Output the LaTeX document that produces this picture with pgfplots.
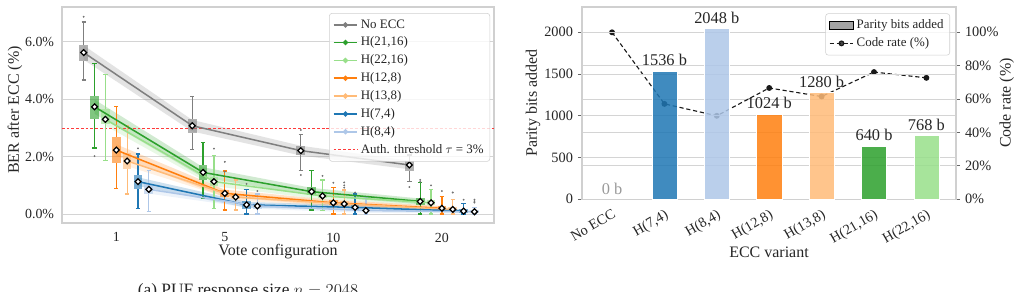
\documentclass[border=0pt]{standalone}
\usepackage{pgfplots}
\pgfplotsset{compat=1.18}
\usepgfplotslibrary{statistics}
\usepackage{fontspec}
\setmainfont{Liberation Serif}
\definecolor{cNo}{HTML}{7F7F7F}
\definecolor{cG}{HTML}{2CA02C}
\definecolor{cLG}{HTML}{98DF8A}
\definecolor{cO}{HTML}{FF7F0E}
\definecolor{cLO}{HTML}{FFBB78}
\definecolor{cB}{HTML}{1F77B4}
\definecolor{cLB}{HTML}{AEC7E8}
\definecolor{spine}{HTML}{D0D0D0}
\definecolor{gridc}{HTML}{D4D4D4}
\definecolor{txt}{HTML}{262626}
\definecolor{thr}{HTML}{FF3B3B}
\newcommand\bx[7]{\addplot[forget plot, boxplot/draw direction=y, boxplot prepared={draw direction=y, draw position=#2, lower whisker=#3, lower quartile=#4, median=#5, upper quartile=#6, upper whisker=#7, box extend=0.08, whisker extend=0.04, every box/.style={draw=none, fill=#1, fill opacity=0.6}, every whisker/.style={draw=#1, line width=0.9pt}, every median/.style={draw=none}}] coordinates {};}
\newcommand\meanline[2]{\addplot[forget plot, #1, line width=1.1pt, mark=square*, mark size=1.5pt, mark options={rotate=45, fill=white, draw=black, line width=0.9pt}] coordinates {#2};}
\newcommand\band[2]{\addplot[forget plot, draw=none, fill=#1, fill opacity=0.22] coordinates {#2};}
\begin{document}
\begin{tikzpicture}
\path[use as bounding box] (0pt,0pt) rectangle (735.84pt,209.52pt);
% ---------------- left panel ----------------
\begin{axis}[
  at={(44.64pt,48.96pt)}, anchor=south west,
  width=311.04pt, height=155.52pt, scale only axis,
  xmin=-0.5, xmax=3.48, ymin=-0.314, ymax=7.22,
  xtick={0,1,2,3}, xticklabels={1,5,10,20},
  ytick={0,2,4,6},
  /pgf/number format/assume math mode=true,
  yticklabel={\pgfmathprintnumber[fixed,fixed zerofill,precision=1]{\tick}\%},
  major tick length=0pt,
  ymajorgrids, grid style={gridc, line width=0.7pt},
  axis line style={spine, line width=1pt},
  tick label style={font=\fontsize{10}{12}\selectfont, text=txt},
  xticklabel style={yshift=-3.5pt},
  yticklabel style={xshift=-2.2pt},
  xlabel={Vote configuration}, ylabel={BER after ECC (\%)},
  label style={font=\fontsize{11.5}{13}\selectfont, text=txt},
  xlabel style={at={(axis description cs:0.5,-0.134)}, anchor=center},
  ylabel style={at={(axis description cs:-0.109,0.523)}, anchor=center},
  legend style={at={(0.991,0.972)}, anchor=north east, font=\fontsize{9.3}{11}\selectfont, draw=spine, fill=white, fill opacity=0.8, text opacity=1, rounded corners=2pt, text=txt, row sep=0.9pt, inner sep=2.5pt},
  legend cell align=left,
]
\addlegendimage{cNo, line width=1.1pt, mark=*, mark size=1.3pt}\addlegendentry{No ECC}
\addlegendimage{cG, line width=1.1pt, mark=*, mark size=1.3pt}\addlegendentry{H(21,16)}
\addlegendimage{cLG, line width=1.1pt, mark=*, mark size=1.3pt}\addlegendentry{H(22,16)}
\addlegendimage{cO, line width=1.1pt, mark=*, mark size=1.3pt}\addlegendentry{H(12,8)}
\addlegendimage{cLO, line width=1.1pt, mark=*, mark size=1.3pt}\addlegendentry{H(13,8)}
\addlegendimage{cB, line width=1.1pt, mark=*, mark size=1.3pt}\addlegendentry{H(7,4)}
\addlegendimage{cLB, line width=1.1pt, mark=*, mark size=1.3pt}\addlegendentry{H(8,4)}
\addlegendimage{thr, dash pattern=on 2pt off 1.4pt, line width=0.65pt}\addlegendentry{Auth. threshold $\tau$ = 3\%}
% bands
\band{cNo}{(-0.3,5.88)(0.7,3.28)(1.7,2.38)(2.7,1.86)(2.7,1.56)(1.7,2.04)(0.7,2.88)(-0.3,5.38)}
\band{cG}{(-0.2,3.99)(0.8,1.63)(1.8,0.91)(2.8,0.54)(2.8,0.34)(1.8,0.65)(0.8,1.27)(-0.2,3.49)}
\band{cLG}{(-0.1,3.52)(0.9,1.29)(1.9,0.75)(2.9,0.49)(2.9,0.29)(1.9,0.51)(0.9,0.97)(-0.1,3.08)}
\band{cO}{(0,2.43)(1,0.85)(2,0.49)(3,0.28)(3,0.12)(2,0.29)(1,0.59)(0,2.03)}
\band{cLO}{(0.1,2.03)(1.1,0.71)(2.1,0.45)(3.1,0.24)(3.1,0.08)(2.1,0.25)(1.1,0.47)(0.1,1.67)}
\band{cB}{(0.2,1.28)(1.2,0.42)(2.2,0.31)(3.2,0.16)(3.2,0.04)(2.2,0.15)(1.2,0.22)(0.2,0.98)}
\band{cLB}{(0.3,1.01)(1.3,0.38)(2.3,0.20)(3.3,0.14)(3.3,0.02)(2.3,0.04)(1.3,0.18)(0.3,0.71)}
% threshold
\addplot[forget plot, thr, dash pattern=on 2pt off 1.4pt, line width=0.65pt] coordinates {(-0.5,3) (3.48,3)};
% boxes: lower whisker, lower quartile, median, upper quartile, upper whisker
\bx{cNo}{-0.3}{4.67}{5.35}{5.63}{5.90}{6.70}
\bx{cNo}{0.7}{2.24}{2.81}{3.08}{3.30}{4.09}
\bx{cNo}{1.7}{1.51}{2.05}{2.21}{2.37}{2.77}
\bx{cNo}{2.7}{1.13}{1.49}{1.71}{1.84}{2.06}
\bx{cG}{-0.2}{2.30}{3.30}{3.74}{4.12}{5.25}
\bx{cG}{0.8}{0.53}{1.19}{1.45}{1.71}{2.49}
\bx{cG}{1.8}{0.14}{0.65}{0.78}{0.95}{1.51}
\bx{cG}{2.8}{0.00}{0.30}{0.44}{0.56}{1.09}
\bx{cLG}{-0.1}{1.86}{3.14}{3.30}{3.66}{4.86}
\bx{cLG}{0.9}{0.20}{0.98}{1.13}{1.30}{2.05}
\bx{cLG}{1.9}{0.12}{0.56}{0.63}{0.74}{1.19}
\bx{cLG}{2.9}{0.00}{0.33}{0.39}{0.49}{0.86}
\bx{cO}{0}{0.88}{1.79}{2.23}{2.67}{3.74}
\bx{cO}{1}{0.14}{0.58}{0.72}{0.84}{1.50}
\bx{cO}{2}{0.00}{0.30}{0.39}{0.49}{0.93}
\bx{cO}{3}{0.00}{0.14}{0.20}{0.28}{0.60}
\bx{cLO}{0.1}{0.70}{1.58}{1.85}{2.12}{3.07}
\bx{cLO}{1.1}{0.14}{0.51}{0.59}{0.70}{1.19}
\bx{cLO}{2.1}{0.00}{0.28}{0.35}{0.44}{0.84}
\bx{cLO}{3.1}{0.00}{0.12}{0.16}{0.26}{0.51}
\bx{cB}{0.2}{0.20}{0.86}{1.13}{1.37}{2.09}
\bx{cB}{1.2}{0.00}{0.19}{0.32}{0.44}{0.85}
\bx{cB}{2.2}{0.00}{0.14}{0.23}{0.30}{0.70}
\bx{cB}{3.2}{0.00}{0.05}{0.10}{0.19}{0.37}
\bx{cLB}{0.3}{0.08}{0.70}{0.86}{1.05}{1.53}
\bx{cLB}{1.3}{0.00}{0.19}{0.28}{0.37}{0.70}
\bx{cLB}{2.3}{0.00}{0.09}{0.12}{0.21}{0.56}
\bx{cLB}{3.3}{0.00}{0.02}{0.08}{0.14}{0.23}
% outliers
\addplot[forget plot, only marks, mark=*, mark size=0.45pt, color=black!55] coordinates {
(-0.3,6.88) (-0.2,2.02) (0.2,2.29)
(0.9,2.28) (1.0,1.82) (1.0,1.48) (1.2,1.05) (1.3,0.80)
(1.7,2.93) (1.7,1.36) (1.9,1.33) (2.0,1.09) (2.1,1.10) (2.1,1.00) (2.1,0.92) (2.2,0.75)
(2.7,0.94) (2.8,1.19) (2.8,1.12) (2.9,1.00) (3.0,0.80) (3.1,0.75) (3.2,0.50) (3.3,0.50) (3.3,0.45) (3.3,0.40)};
% mean lines
\meanline{cNo}{(-0.3,5.63)(0.7,3.08)(1.7,2.21)(2.7,1.71)}
\meanline{cG}{(-0.2,3.74)(0.8,1.45)(1.8,0.78)(2.8,0.44)}
\meanline{cLG}{(-0.1,3.30)(0.9,1.13)(1.9,0.63)(2.9,0.39)}
\meanline{cO}{(0,2.23)(1,0.72)(2,0.39)(3,0.20)}
\meanline{cLO}{(0.1,1.85)(1.1,0.59)(2.1,0.35)(3.1,0.16)}
\meanline{cB}{(0.2,1.13)(1.2,0.32)(2.2,0.23)(3.2,0.10)}
\meanline{cLB}{(0.3,0.86)(1.3,0.28)(2.3,0.12)(3.3,0.08)}
\end{axis}
\node[anchor=north, inner sep=0pt, font=\fontsize{12.5}{14}\selectfont, text=txt] at (178.6pt,5.76pt) {(a) PUF response size $n = 2048$};
% ---------------- right panel: code rate axis (drawn first) ----------------
\begin{axis}[
  at={(419.04pt,66.02pt)}, anchor=south west,
  width=269.28pt, height=138.46pt, scale only axis,
  xmin=-0.573, xmax=6.565, ymin=0, ymax=115.15,
  xtick=\empty, ytick={0,20,...,100}, ytick pos=right,
  /pgf/number format/assume math mode=true,
  yticklabel={\pgfmathprintnumber{\tick}\%},
  tick align=outside, major tick length=3pt,
  ytick style={black!60, line width=0.6pt},
  ymajorgrids, grid style={gridc, line width=0.7pt},
  axis line style={spine, line width=1pt},
  tick label style={font=\fontsize{10.3}{12}\selectfont, text=txt},
  ylabel={Code rate (\%)},
  label style={font=\fontsize{11.5}{13}\selectfont, text=txt},
  ylabel style={at={(axis description cs:1.136,0.5)}, anchor=center, rotate=0},
]
\addplot[black!90, dash pattern=on 3pt off 2pt, line width=0.8pt, mark=*, mark size=1.7pt, mark options={solid}] coordinates {(0,100) (1,57.14) (2,50) (3,66.67) (4,61.54) (5,76.19) (6,72.73)};
\end{axis}
% ---------------- right panel: bars ----------------
\begin{axis}[
  at={(419.04pt,66.02pt)}, anchor=south west,
  width=269.28pt, height=138.46pt, scale only axis,
  xmin=-0.573, xmax=6.565, ymin=0, ymax=2303,
  xtick={0,...,6}, xticklabels={No ECC,{H(7,4)},{H(8,4)},{H(12,8)},{H(13,8)},{H(21,16)},{H(22,16)}},
  x tick label style={rotate=30, anchor=north east, yshift=-1pt, inner sep=2pt, font=\fontsize{10.3}{12}\selectfont},
  xtick style={draw=none},
  ytick={0,500,...,2000}, ytick pos=left,
  /pgf/number format/assume math mode=true,
  /pgf/number format/1000 sep={},
  yticklabel={\pgfmathprintnumber{\tick}},
  tick align=outside, major tick length=3pt,
  ytick style={black!60, line width=0.6pt},
  ymajorgrids, grid style={gridc, line width=0.7pt},
  axis line style={spine, line width=1pt},
  tick label style={font=\fontsize{10.3}{12}\selectfont, text=txt},
  xlabel={ECC variant}, ylabel={Parity bits added},
  label style={font=\fontsize{11.5}{13}\selectfont, text=txt},
  xlabel style={at={(axis description cs:0.5,-0.278)}, anchor=center},
  ylabel style={at={(axis description cs:-0.131,0.5)}, anchor=center},
  legend style={at={(0.984,0.967)}, anchor=north east, font=\fontsize{9.3}{11}\selectfont, draw=spine, fill=white, fill opacity=0.8, text opacity=1, rounded corners=2pt, text=txt, row sep=1pt, inner sep=2.5pt},
  legend cell align=left,
  every node near coord/.append style={font=\fontsize{11.8}{13}\selectfont, text=txt, text opacity=1, fill opacity=1},
]
\addlegendimage{area legend, fill=black!45, draw=none, sharp corners}\addlegendentry{Parity bits added}
\addlegendimage{black!90, dash pattern=on 3pt off 2pt, line width=0.8pt, mark=*, mark size=1.7pt, mark options={solid}, sharp corners}\addlegendentry{Code rate (\%)}
\addplot[forget plot, ybar, bar width=0.48, bar shift=0pt, draw=none, nodes near coords={0 b}, every node near coord/.append style={text=black!40}] coordinates {(0,0)};
\addplot[forget plot, ybar, bar width=0.48, bar shift=0pt, fill=cB, fill opacity=0.85, draw=white, line width=0.4pt, nodes near coords={1536 b}] coordinates {(1,1536)};
\addplot[forget plot, ybar, bar width=0.48, bar shift=0pt, fill=cLB, fill opacity=0.85, draw=white, line width=0.4pt, nodes near coords={2048 b}] coordinates {(2,2048)};
\addplot[forget plot, ybar, bar width=0.48, bar shift=0pt, fill=cO, fill opacity=0.85, draw=white, line width=0.4pt, nodes near coords={1024 b}] coordinates {(3,1024)};
\addplot[forget plot, ybar, bar width=0.48, bar shift=0pt, fill=cLO, fill opacity=0.85, draw=white, line width=0.4pt, nodes near coords={1280 b}] coordinates {(4,1280)};
\addplot[forget plot, ybar, bar width=0.48, bar shift=0pt, fill=cG, fill opacity=0.85, draw=white, line width=0.4pt, nodes near coords={640 b}] coordinates {(5,640)};
\addplot[forget plot, ybar, bar width=0.48, bar shift=0pt, fill=cLG, fill opacity=0.85, draw=white, line width=0.4pt, nodes near coords={768 b}] coordinates {(6,768)};
\end{axis}
\end{tikzpicture}
\end{document}
